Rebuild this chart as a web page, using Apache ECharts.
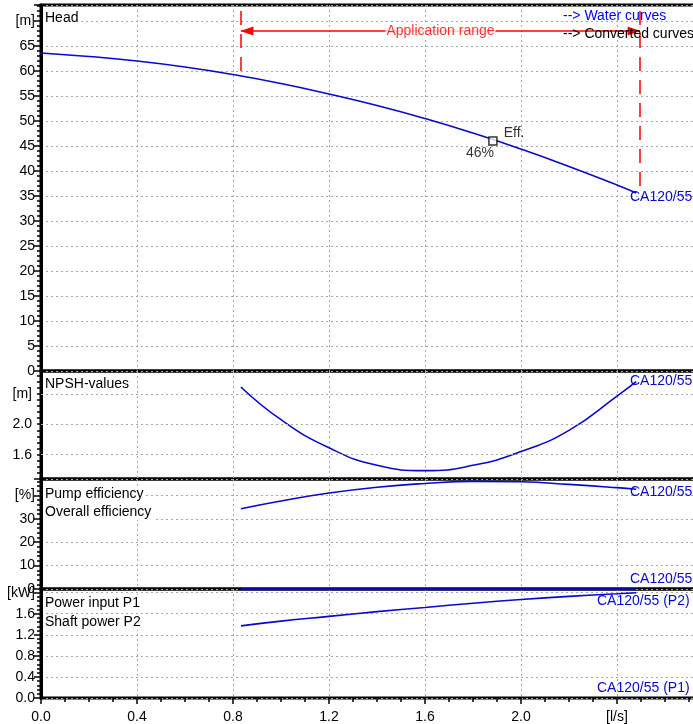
<!DOCTYPE html>
<html>
<head>
<meta charset="utf-8">
<script src="https://cdn.jsdelivr.net/npm/echarts@6/dist/echarts.min.js"></script>
<style>html,body{margin:0;padding:0;background:#fff}#c{width:693px;height:724px}</style>
</head>
<body>
<div id="c"></div>
<script>
// ---- data ----
const Q_HEAD = [0, 0.2, 0.4, 0.6, 0.8, 1.0, 1.2, 1.4, 1.6, 1.8, 2.0, 2.2, 2.4, 2.48];
const HEAD   = [63.6, 62.9, 62.0, 60.8, 59.3, 57.5, 55.4, 53.1, 50.5, 47.6, 44.4, 40.9, 37.2, 35.6];
const Q_RANGE = [0.833, 1.0, 1.2, 1.4, 1.6, 1.8, 2.0, 2.2, 2.4, 2.48];
const NPSH        = [2.49, 2.06, 1.69, 1.46, 1.39, 1.46, 1.64, 1.92, 2.37, 2.56];
const ETA_PUMP    = [34.3, 37.6, 41.0, 43.5, 45.1, 46.0, 45.8, 44.7, 43.3, 42.6];
const ETA_OVERALL = [0, 0, 0, 0, 0, 0, 0, 0, 0, 0];
const P2 = [1.37, 1.46, 1.55, 1.64, 1.72, 1.80, 1.87, 1.93, 1.98, 2.00];
const P1 = [2.06, 2.06, 2.06, 2.06, 2.06, 2.06, 2.06, 2.06, 2.06, 2.06];
const DUTY_POINT = [1.883, 46];
const DUTY_EFF = '46%';
const APP_RANGE = [0.833, 2.496];      // l/s
const APP_RANGE_TOP = 72;             // m
const APP_RANGE_BOTTOM = [59.0, 35.2];// m (where dashed lines stop)
const APP_ARROW_LEVEL = 68;           // m
const X_UNIT = '[l/s]';
const UNIT_HEAD = '[m]', UNIT_NPSH = '[m]', UNIT_EFF = '[%]', UNIT_POWER = '[kW]';
const CURVE_NAME = 'CA120/55';

const BLUE = '#0808d0';
const FONT = '"Liberation Sans", Arial, sans-serif';
const XMAX = 2.7375;

const near = (a, b) => Math.abs(a - b) < 1e-6;
const isMult = (v, s) => near(v / s, Math.round(v / s));
const zip = (xs, ys) => xs.map((x, i) => [x, ys[i]]);

const gridDefs = [
  {left: 41, top: 5, width: 657, height: 366},
  {left: 41, top: 371, width: 657, height: 108},
  {left: 41, top: 479, width: 657, height: 110},
  {left: 41, top: 589, width: 657, height: 109}
];
const grid = gridDefs.map(g => Object.assign({show: true, borderColor: '#000', borderWidth: 3, backgroundColor: 'transparent', outerBoundsMode: 'none', containLabel: false}, g));

const dotted = {show: true, lineStyle: {type: [2, 3], color: '#a8a8a8', width: 1}};

const xAxis = [0, 1, 2, 3].map(i => ({
  type: 'value', gridIndex: i, min: 0, max: XMAX, interval: 0.4,
  axisLine: {show: false},
  axisTick: {show: i === 3, length: 6, lineStyle: {color: '#000', width: 1.5}},
  minorTick: {show: i === 3, splitNumber: 4, length: 4, lineStyle: {color: '#000', width: 1.5}},
  axisLabel: {show: i === 3, margin: 12, color: '#000', fontSize: 14, fontFamily: FONT,
    formatter: v => near(v, 2.4) ? X_UNIT : (isMult(v, 0.4) && v < 2.3 ? v.toFixed(1) : '')},
  splitLine: dotted
}));

const yBase = (i, extra) => Object.assign({
  type: 'value', gridIndex: i,
  axisLine: {show: true, lineStyle: {color: '#000', width: 3}},
  axisTick: {show: true, length: 7, lineStyle: {color: '#000', width: 1.5}},
  axisLabel: {margin: 6, color: '#000', fontSize: 14, fontFamily: FONT},
  splitLine: dotted
}, extra);

const yAxis = [
  yBase(0, {min: 0, max: 73.2, interval: 5,
    minorTick: {show: true, splitNumber: 5, length: 4, lineStyle: {color: '#000', width: 1.5}},
    axisLabel: {margin: 6, color: '#000', fontSize: 14, fontFamily: FONT,
      formatter: v => near(v, 70) ? UNIT_HEAD : (isMult(v, 5) && v <= 65 ? String(v) : '')}}),
  yBase(1, {min: 1.28, max: 2.70, interval: 0.08,
    axisTick: {show: true, length: 4, lineStyle: {color: '#000', width: 1.5}},
    splitLine: {show: false},
    axisLabel: {margin: 9, color: '#000', fontSize: 14, fontFamily: FONT,
      formatter: v => near(v, 2.4) ? UNIT_NPSH : (near(v, 2.0) || near(v, 1.6) ? v.toFixed(1) : '')}}),
  yBase(2, {min: 0, max: 47, interval: 10,
    minorTick: {show: true, splitNumber: 5, length: 4, lineStyle: {color: '#000', width: 1.5}},
    axisLabel: {margin: 6, color: '#000', fontSize: 14, fontFamily: FONT,
      formatter: v => near(v, 40) ? UNIT_EFF : (isMult(v, 10) && v < 35 ? String(v) : '')}}),
  yBase(3, {min: 0, max: 2.07, interval: 0.4,
    minorTick: {show: true, splitNumber: 5, length: 4, lineStyle: {color: '#000', width: 1.5}},
    axisLabel: {margin: 6, color: '#000', fontSize: 14, fontFamily: FONT,
      formatter: v => near(v, 2.0) ? UNIT_POWER : (isMult(v, 0.4) && v < 1.9 ? v.toFixed(1) : '')}})
];

const lineS = (gi, data, extra) => Object.assign({
  type: 'line', xAxisIndex: gi, yAxisIndex: gi, data: data, smooth: true,
  showSymbol: false, silent: true, animation: false, clip: true,
  lineStyle: {color: BLUE, width: 1.6}
}, extra || {});

const red = '#ff0000';
const dash = {color: red, width: 1.5, type: [14, 9]};

const series = [
  lineS(0, zip(Q_HEAD, HEAD), {
    markLine: {
      silent: true, animation: false, symbol: ['none', 'none'], label: {show: false},
      data: [
        [{coord: [APP_RANGE[0], APP_RANGE_TOP], lineStyle: dash}, {coord: [APP_RANGE[0], APP_RANGE_BOTTOM[0]]}],
        [{coord: [APP_RANGE[1], APP_RANGE_TOP], lineStyle: dash}, {coord: [APP_RANGE[1], APP_RANGE_BOTTOM[1]]}],
        [{coord: [APP_RANGE[0], APP_ARROW_LEVEL], symbol: 'triangle', symbolSize: [9, 13], symbolOffset: [0, 6], lineStyle: {color: red, width: 1.5, type: 'solid'}},
         {coord: [APP_RANGE[1], APP_ARROW_LEVEL], symbol: 'triangle', symbolSize: [9, 13], symbolOffset: [0, 6]}]
      ]
    }
  }),
  {type: 'scatter', xAxisIndex: 0, yAxisIndex: 0, silent: true, animation: false, z: 5,
    data: [
      {value: [(APP_RANGE[0] + APP_RANGE[1]) / 2, APP_ARROW_LEVEL], symbolSize: 0,
       label: {show: true, position: 'inside', formatter: 'Application range', color: red, fontSize: 14, fontFamily: FONT, backgroundColor: '#fff', padding: [0, 1]}},
      {value: DUTY_POINT, symbol: 'rect', symbolSize: 8,
       itemStyle: {color: '#fff', borderColor: '#000', borderWidth: 1.5},
       label: {show: true, position: 'right', distance: 6, offset: [0, -8], formatter: 'Eff.', color: '#000', fontSize: 14, fontFamily: FONT}},
      {value: DUTY_POINT, symbolSize: 0,
       label: {show: true, position: 'bottom', distance: 5, offset: [-13, 0], formatter: DUTY_EFF, color: '#000', fontSize: 14, fontFamily: FONT}}
    ]},
  lineS(1, zip(Q_RANGE, NPSH), {
    markLine: {silent: true, animation: false, symbol: ['none', 'none'], label: {show: false},
      lineStyle: {type: [2, 3], color: '#a8a8a8', width: 1},
      data: [{yAxis: 1.6}, {yAxis: 2.0}, {yAxis: 2.4}]}
  }),
  lineS(2, zip(Q_RANGE, ETA_PUMP)),
  lineS(2, zip(Q_RANGE, ETA_OVERALL), {smooth: false}),
  lineS(3, zip(Q_RANGE, P2)),
  lineS(3, zip(Q_RANGE, P1), {smooth: false})
];

const txt = (x, y, text, color, align, bg) => ({
  type: 'text', x: x, y: y, z: 50, silent: true,
  style: {text: text, fill: color, font: '14px ' + FONT, align: align || 'left', verticalAlign: 'middle',
          backgroundColor: bg || 'transparent', padding: bg ? [1, 2, 1, 0] : 0}
});

const graphic = [
  txt(45, 18, 'Head', '#000', 'left', '#fff'),
  txt(45, 384, 'NPSH-values', '#000', 'left', '#fff'),
  txt(45, 494, 'Pump efficiency', '#000', 'left', '#fff'),
  txt(45, 512, 'Overall efficiency', '#000', 'left', '#fff'),
  txt(45, 603, 'Power input P1', '#000', 'left', '#fff'),
  txt(45, 622, 'Shaft power P2', '#000', 'left', '#fff'),
  txt(563, 16, '--> Water curves', '#0000ff'),
  txt(563, 34, '--> Converted curves', '#000'),
  txt(630, 197, CURVE_NAME, BLUE),
  txt(630, 381, CURVE_NAME, BLUE),
  txt(630, 492, CURVE_NAME, BLUE),
  txt(630, 579, CURVE_NAME, BLUE),
  txt(597, 601, CURVE_NAME + ' (P2)', BLUE),
  txt(597, 688, CURVE_NAME + ' (P1)', BLUE)
];

const chart = echarts.init(document.getElementById('c'), null, {renderer: 'canvas'});
chart.setOption({
  animation: false,
  backgroundColor: '#fff',
  grid: grid, xAxis: xAxis, yAxis: yAxis, series: series, graphic: graphic
});
</script>
</body>
</html>
